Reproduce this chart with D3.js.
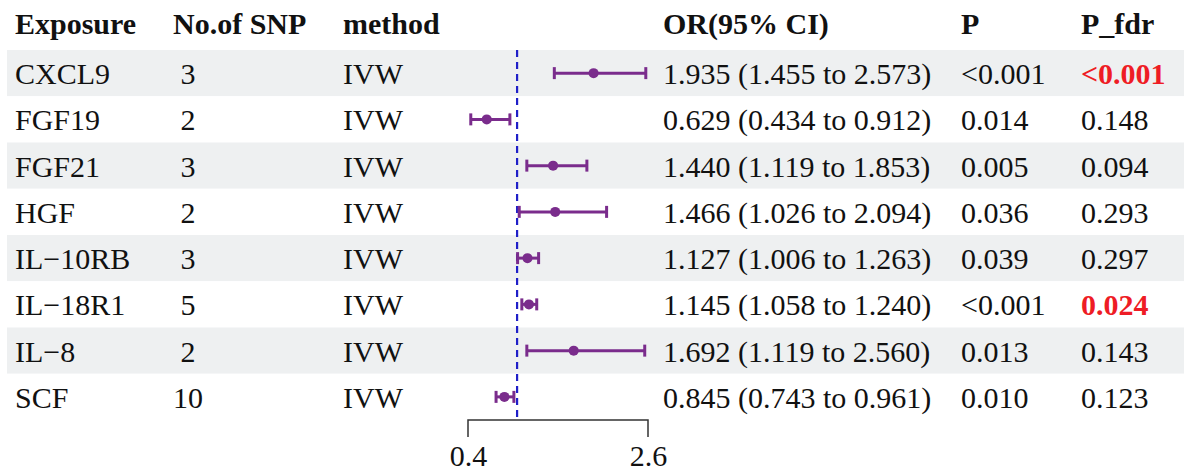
<!DOCTYPE html>
<html>
<head>
<meta charset="utf-8">
<script src="https://cdn.jsdelivr.net/npm/d3@7"></script>
<style>
  body { margin: 0; background: #fff; }
  text { font-family: "Liberation Serif", "Times New Roman", serif; }
</style>
</head>
<body>
<svg id="chart" width="1191" height="471"></svg>
<script>
// table data
var exposures = ["CXCL9", "FGF19", "FGF21", "HGF", "IL\u221210RB", "IL\u221218R1", "IL\u22128", "SCF"];
var nSnp = ["3", "2", "3", "2", "3", "5", "2", "10"];
var methods = ["IVW", "IVW", "IVW", "IVW", "IVW", "IVW", "IVW", "IVW"];
var orVals = [1.935, 0.629, 1.440, 1.466, 1.127, 1.145, 1.692, 0.845];
var lowerVals = [1.455, 0.434, 1.119, 1.026, 1.006, 1.058, 1.119, 0.743];
var upperVals = [2.573, 0.912, 1.853, 2.094, 1.263, 1.240, 2.560, 0.961];
var pVals = ["<0.001", "0.014", "0.005", "0.036", "0.039", "<0.001", "0.013", "0.010"];
var pFdr = ["<0.001", "0.148", "0.094", "0.293", "0.297", "0.024", "0.143", "0.123"];
var headers = ["Exposure", "No.of SNP", "method", "OR(95% CI)", "P", "P_fdr"];
var xTicks = [0.4, 2.6];

var svg = d3.select("#chart");
var fs = 30;

var y = d3.scaleBand().domain(exposures).range([50, 420]);
var x = d3.scaleLinear().domain([0.4, 2.6]).range([468, 648]);

// column x positions
var colX = [15, 173, 343, 663, 961, 1081];

// background stripes
svg.selectAll(".band")
  .data(exposures)
  .enter().append("rect")
  .attr("class", "band")
  .attr("x", 7)
  .attr("y", function(d) { return y(d); })
  .attr("width", 1177)
  .attr("height", y.bandwidth())
  .attr("fill", function(d, i) { return i % 2 == 0 ? "#eef0f1" : "#fff"; });

// header
svg.selectAll(".hdr")
  .data(headers)
  .enter().append("text")
  .attr("class", "hdr")
  .attr("x", function(d, i) { return colX[i]; })
  .attr("y", 34)
  .attr("font-size", fs)
  .attr("font-weight", "bold")
  .attr("fill", "#111")
  .text(function(d) { return d; });

var rows = exposures.map(function(e, i) {
  return {
    name: e, n: nSnp[i], method: methods[i], or: orVals[i], lo: lowerVals[i], hi: upperVals[i],
    p: pVals[i], fdr: pFdr[i]
  };
});

function ty(d) { return y(d.name) + y.bandwidth() / 2 + 11; }

function addCol(cls, xp, fn, anchor) {
  svg.selectAll("." + cls)
    .data(rows)
    .enter().append("text")
    .attr("class", cls)
    .attr("x", xp)
    .attr("y", ty)
    .attr("font-size", fs)
    .attr("text-anchor", anchor || "start")
    .attr("fill", "#111")
    .text(fn);
}

addCol("c0", colX[0], function(d) { return d.name; });
addCol("c1", 188, function(d) { return d.n; }, "middle");
addCol("c2", colX[2], function(d) { return d.method; });
addCol("c3", colX[3], function(d) {
  return d.or.toFixed(3) + " (" + d.lo.toFixed(3) + " to " + d.hi.toFixed(3) + ")";
});
addCol("c4", colX[4], function(d) { return d.p; });
addCol("c5", colX[5], function(d) { return d.fdr; });

// fdr < 0.05 in red bold
svg.selectAll(".c5")
  .filter(function(d) { return d.fdr.indexOf("<") == 0 || +d.fdr < 0.05; })
  .attr("fill", "#ee1c25")
  .attr("font-weight", "bold");

// reference line at OR = 1
svg.append("line")
  .attr("x1", x(1)).attr("x2", x(1))
  .attr("y1", 50).attr("y2", 417)
  .attr("stroke", "#1f1fc8")
  .attr("stroke-width", 2.2)
  .attr("stroke-dasharray", "7,5");

// error bars
var purple = "#7a2c8c";
var cy = function(d) { return y(d.name) + y.bandwidth() / 2; };
var g = svg.append("g");
g.selectAll(".ci")
  .data(rows).enter().append("line")
  .attr("x1", function(d) { return x(d.lo); })
  .attr("x2", function(d) { return x(d.hi); })
  .attr("y1", cy).attr("y2", cy)
  .attr("stroke", purple).attr("stroke-width", 3);
["lo", "hi"].forEach(function(k) {
  g.selectAll(".cap" + k)
    .data(rows).enter().append("line")
    .attr("x1", function(d) { return x(d[k]); })
    .attr("x2", function(d) { return x(d[k]); })
    .attr("y1", function(d) { return cy(d) - 6; })
    .attr("y2", function(d) { return cy(d) + 6; })
    .attr("stroke", purple).attr("stroke-width", 3);
});
g.selectAll(".pt")
  .data(rows).enter().append("circle")
  .attr("cx", function(d) { return x(d.or); })
  .attr("cy", cy)
  .attr("r", 5)
  .attr("fill", purple);

// x axis (bracket style)
var axis = svg.append("g")
  .attr("transform", "translate(0,420)")
  .call(d3.axisBottom(x).tickValues(xTicks).tickSize(-17).tickPadding(0).tickFormat(d3.format(".1f")));
axis.select(".domain").attr("d", "M" + x(0.4) + ",17V0H" + x(2.6) + "V17").attr("stroke", "#333").attr("stroke-width", 1.5);
axis.selectAll(".tick line").remove();
axis.selectAll(".tick text")
  .attr("y", 46)
  .attr("dy", 0)
  .attr("font-size", fs)
  .attr("font-family", "Liberation Serif, serif")
  .attr("fill", "#111");
</script>
</body>
</html>
